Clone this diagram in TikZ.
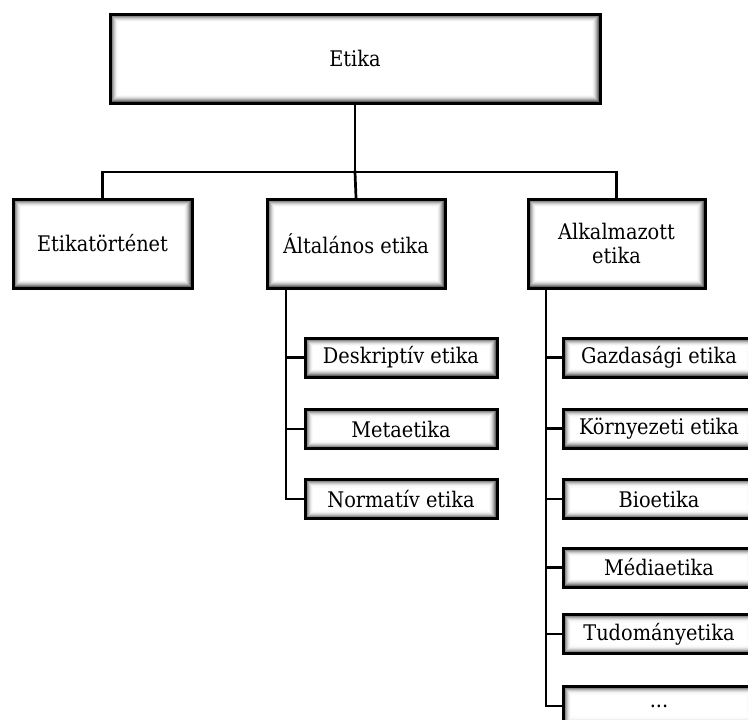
\documentclass[tikz,border=0pt]{standalone}
\usepackage{fontspec}
\setmainfont{DejaVu Serif Condensed}
\begin{document}
\begin{tikzpicture}[x=1pt,y=-1pt,
  inshadow/.style={path picture={
    \foreach \k/\c in {1.5/60,2.5/45,3.5/32,4.5/21,5.5/12,6.5/6,7.5/2}{
      \draw[black!\c, line width=1.1pt]
        ([xshift=\k pt,yshift=\k pt]path picture bounding box.south west)
        rectangle ([xshift=-\k pt,yshift=-\k pt]path picture bounding box.north east);
    }}},
  box/.style={draw=black, line width=3pt, fill=white, inshadow, inner sep=0pt,
    align=center, font=\fontsize{21.5}{24}\selectfont},
  bigbox/.style={box, minimum height=89pt},
  smallbox/.style={box, minimum width=192pt, minimum height=39pt},
  conn/.style={line width=2.7pt, line cap=rect}
]
\useasboundingbox (0,0) rectangle (748,720);

\node[bigbox, minimum width=490pt] (top) at (355,58.5) {Etika};
\node[bigbox, minimum width=179pt] (etik) at (102.5,243.5) {Etikatörténet};
\node[bigbox, minimum width=178pt] (alt) at (356,243.5) {Általános etika};
\node[bigbox, minimum width=177pt] (alk) at (616.5,243.5) {Alkalmazott\\etika};

\node[smallbox] (d1) at (401,357.5) {Deskriptív etika};
\node[smallbox] (d2) at (401,429) {Metaetika};
\node[smallbox] (d3) at (401,499) {Normatív etika};

\node[smallbox] (a1) at (659,357.5) {Gazdasági etika};
\node[smallbox] (a2) at (659,428.5) {Környezeti etika};
\node[smallbox] (a3) at (659,499) {Bioetika};
\node[smallbox] (a4) at (659,567.5) {Médiaetika};
\node[smallbox] (a5) at (659,634) {Tudományetika};
\node[smallbox] (a6) at (659,706) {...};

\coordinate (bus) at (355,172);
\coordinate (lt) at (286,0);
\coordinate (rt) at (546,0);

\draw[conn] (top.south) -- (bus);
\draw[conn] (etik.north) |- (bus) -| (alk.north);
\draw[conn] (bus) -- (alt.north);

\draw[conn] (alt.south -| lt) |- (d3.west);
\draw[conn] (d1.west) -| (lt |- d1.west);
\draw[conn] (d2.west) -| (lt |- d2.west);

\draw[conn] (alk.south -| rt) |- (a6.west);
\foreach \n in {a1,a2,a3,a4,a5}{
  \draw[conn] (\n.west) -- (rt |- \n.west);
}
\end{tikzpicture}
\end{document}
